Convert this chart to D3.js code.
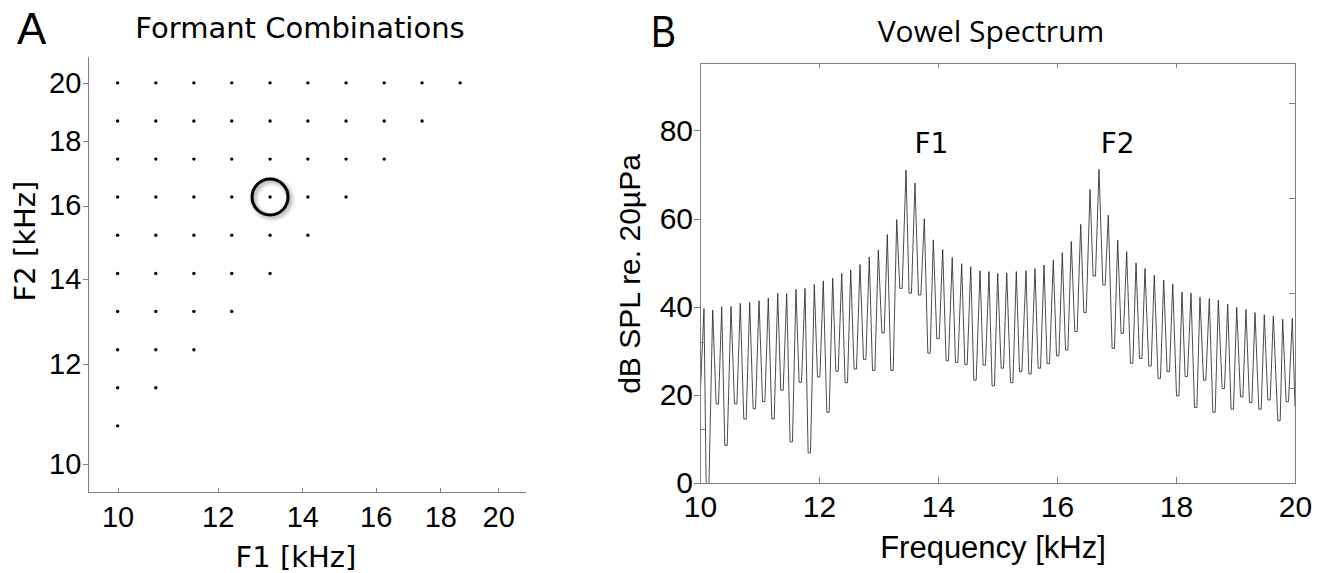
<!DOCTYPE html>
<html>
<head>
<meta charset="utf-8">
<script src="https://cdn.jsdelivr.net/npm/d3@7"></script>
<style>
  body { margin: 0; background: #fff; }
  svg { display: block; }
  .axis path, .axis line { stroke: #808080; stroke-width: 1; shape-rendering: crispEdges; }
  .axis text { font-family: "Liberation Sans", Arial, sans-serif; fill: #000; }
</style>
</head>
<body>
<svg id="chart" width="1317" height="573"></svg>
<script>
// panel A: formant values on the grid (kHz)
var f1Values = [10.00, 10.72, 11.49, 12.31, 13.20, 14.14, 15.16, 16.25, 17.41, 18.66];
var f2Values = [10.72, 11.49, 12.31, 13.20, 14.14, 15.16, 16.25, 17.41, 18.66, 20.00];
var selected = {f1: 13.20, f2: 16.25};
var formantTicks = [10, 12, 14, 16, 18, 20];

// panel B: spectrum vertices (kHz, dB SPL)
// start point, then peak / trough / peak ... , then end point
var specFreq = [10.000, 10.067, 10.126, 10.213, 10.291, 10.365, 10.437, 10.521, 10.600, 10.677,
  10.756, 10.835, 10.913, 10.992, 11.071, 11.148, 11.227, 11.306, 11.378, 11.457,
  11.534, 11.613, 11.686, 11.765, 11.837, 11.921, 11.995, 12.072, 12.151, 12.230,
  12.303, 12.382, 12.459, 12.533, 12.610, 12.689, 12.768, 12.845, 12.919, 12.997,
  13.076, 13.148, 13.227, 13.306, 13.378, 13.462, 13.534, 13.613, 13.692, 13.770,
  13.849, 13.921, 14.000, 14.079, 14.156, 14.239, 14.314, 14.398, 14.471, 14.550,
  14.622, 14.706, 14.778, 14.857, 14.929, 15.003, 15.081, 15.155, 15.239, 15.316,
  15.390, 15.479, 15.546, 15.630, 15.703, 15.782, 15.854, 15.938, 16.012, 16.089,
  16.163, 16.240, 16.319, 16.398, 16.471, 16.555, 16.627, 16.706, 16.790, 16.862,
  16.946, 17.020, 17.097, 17.171, 17.255, 17.328, 17.407, 17.479, 17.563, 17.635,
  17.719, 17.793, 17.871, 17.945, 18.029, 18.101, 18.173, 18.252, 18.331, 18.403,
  18.482, 18.560, 18.639, 18.711, 18.795, 18.869, 18.946, 19.020, 19.104, 19.176,
  19.255, 19.328, 19.412, 19.484, 19.563, 19.636, 19.731, 19.793, 19.871, 19.955,
  20.000];
var specDb = [18.9, 39.6, -3, 39.3, 18.0, 40.0, 8.6, 40.1, 18.0, 40.8,
  14.6, 41.0, 16.9, 41.4, 18.5, 42.0, 14.6, 43.1, 21.1, 43.0,
  9.4, 44.0, 22.9, 44.2, 6.9, 45.1, 24.1, 45.9, 16.1, 46.5,
  25.4, 47.6, 22.8, 48.4, 25.9, 49.6, 28.1, 51.3, 25.6, 52.9,
  34.1, 56.4, 25.6, 59.8, 44.2, 71.0, 43.1, 68.1, 42.7, 60.0,
  29.5, 55.2, 32.8, 53.0, 27.8, 51.2, 27.4, 49.8, 26.9, 49.1,
  23.4, 48.2, 26.8, 48.0, 22.1, 47.6, 26.1, 47.7, 22.8, 48.0,
  25.3, 48.2, 24.8, 48.7, 26.1, 49.5, 27.1, 50.6, 28.9, 52.3,
  30.2, 54.8, 34.4, 58.7, 38.7, 66.6, 47.0, 71.2, 45.0, 60.8,
  30.6, 55.1, 34.0, 52.5, 27.2, 50.0, 28.3, 48.7, 26.6, 47.2,
  23.8, 46.1, 25.3, 45.2, 19.8, 43.4, 24.2, 43.1, 17.2, 42.2,
  23.4, 41.9, 16.1, 41.5, 21.5, 40.6, 16.8, 39.9, 19.6, 39.4,
  18.3, 38.7, 16.8, 38.2, 18.9, 37.9, 14.2, 37.2, 18.5, 37.4,
  17.4];
var freqTicks = [10, 12, 14, 16, 18, 20];
var dbTicks = [0, 20, 40, 60, 80];
var boxRightTicks = [20, 40, 60, 80];
var boxInnerTicks = [12.3, 32];
var formantLabels = [{name: "F1", f: 13.89}, {name: "F2", f: 17.02}];

(function () {
  "use strict";
  var svg = d3.select("#chart");
  svg.append("rect").attr("width", 1317).attr("height", 573).attr("fill", "#fff");

  var defs = svg.append("defs");
  var shadow = defs.append("filter").attr("id", "shadow")
    .attr("x", "-50%").attr("y", "-50%").attr("width", "200%").attr("height", "200%");
  shadow.append("feDropShadow").attr("dx", 2).attr("dy", 2)
    .attr("stdDeviation", 2).attr("flood-color", "#000").attr("flood-opacity", 0.45);

  // ---------- panel A ----------
  var xA = d3.scaleLog().domain([9.48, 21.0]).range([88.3, 525]);
  var yA = d3.scaleLog().domain([9.5, 21.0]).range([492.3, 56]);

  var combos = [];
  f2Values.forEach(function (f2) {
    f1Values.forEach(function (f1) {
      if (f1 < f2) combos.push({f1: f1, f2: f2});
    });
  });

  var gA = svg.append("g");

  gA.append("g").attr("class", "axis")
    .attr("transform", "translate(0,492.3)")
    .call(d3.axisBottom(xA).tickValues(formantTicks).tickFormat(d3.format("d"))
      .tickSizeInner(-4).tickSizeOuter(0).tickPadding(14))
    .selectAll("text").style("font-size", "29px");

  gA.append("g").attr("class", "axis")
    .attr("transform", "translate(88.3,0)")
    .call(d3.axisLeft(yA).tickValues(formantTicks).tickFormat(d3.format("d"))
      .tickSizeInner(5).tickSizeOuter(0).tickPadding(2))
    .selectAll("text").style("font-size", "29px");

  gA.selectAll(".dot").data(combos).enter().append("circle")
    .attr("class", "dot")
    .attr("cx", function (d) { return xA(d.f1); })
    .attr("cy", function (d) { return yA(d.f2); })
    .attr("r", 1.7)
    .attr("fill", "#000");

  gA.append("circle")
    .attr("cx", xA(selected.f1))
    .attr("cy", yA(selected.f2))
    .attr("r", 18)
    .attr("fill", "none")
    .attr("stroke", "#000")
    .attr("stroke-width", 3)
    .attr("filter", "url(#shadow)");

  gA.append("text").attr("x", 17).attr("y", 44)
    .style("font-family", "Liberation Sans, Arial, sans-serif").style("font-size", "44px")
    .text("A");
  gA.append("text").attr("x", 300).attr("y", 38).attr("text-anchor", "middle")
    .style("font-family", "DejaVu Sans, sans-serif").style("font-size", "29px")
    .text("Formant Combinations");
  gA.append("text").attr("x", 296).attr("y", 567).attr("text-anchor", "middle")
    .style("font-family", "DejaVu Sans, sans-serif").style("font-size", "29px")
    .text("F1 [kHz]");
  gA.append("text").attr("transform", "translate(35,241) rotate(-90)").attr("text-anchor", "middle")
    .style("font-family", "DejaVu Sans, sans-serif").style("font-size", "29px")
    .text("F2 [kHz]");

  // ---------- panel B ----------
  var left = 700, right = 1295, top = 63, bottom = 483.3;
  var xB = d3.scaleLinear().domain([10, 20]).range([left, right]);
  var yB = d3.scaleLinear().domain([0, 95.3]).range([bottom, top]);
  var yBox = d3.scaleLinear().domain([0, 88.5]).range([bottom, top]);

  var gB = svg.append("g");

  defs.append("clipPath").attr("id", "plotB").append("rect")
    .attr("x", left).attr("y", top).attr("width", right - left).attr("height", bottom - top);

  // troughs are drawn with a short flat bottom so the harmonics read as spikes
  var troughHalf = 0.02;
  var points = [];
  specFreq.forEach(function (f, i) {
    var isTrough = i > 0 && i < specFreq.length - 1 && i % 2 === 0;
    if (isTrough) {
      points.push([f - troughHalf, specDb[i]]);
      points.push([f + troughHalf, specDb[i]]);
    } else {
      points.push([f, specDb[i]]);
    }
  });
  var line = d3.line()
    .x(function (d) { return xB(d[0]); })
    .y(function (d) { return yB(d[1]); });

  gB.append("path")
    .datum(points)
    .attr("clip-path", "url(#plotB)")
    .attr("d", line)
    .attr("fill", "none")
    .attr("stroke", "#2a2a2a")
    .attr("stroke-width", 0.85);

  gB.append("g").attr("class", "axis")
    .attr("transform", "translate(0," + bottom + ")")
    .call(d3.axisBottom(xB).tickValues(freqTicks).tickFormat(d3.format("d"))
      .tickSizeInner(-6).tickSizeOuter(0).tickPadding(12))
    .selectAll("text").style("font-size", "30px");

  gB.append("g").attr("class", "axis")
    .attr("transform", "translate(0," + top + ")")
    .call(d3.axisTop(xB).tickValues(freqTicks).tickFormat("")
      .tickSizeInner(-5).tickSizeOuter(0));

  gB.append("g").attr("class", "axis")
    .attr("transform", "translate(" + left + ",0)")
    .call(d3.axisLeft(yB).tickValues(dbTicks).tickFormat(d3.format("d"))
      .tickSizeInner(6).tickSizeOuter(0).tickPadding(1))
    .selectAll("text").style("font-size", "30px");

  gB.append("g").attr("class", "axis")
    .attr("transform", "translate(" + left + ",0)")
    .call(d3.axisRight(yB).tickValues(boxInnerTicks).tickFormat("")
      .tickSizeInner(5).tickSizeOuter(0))
    .select(".domain").remove();

  gB.append("g").attr("class", "axis")
    .attr("transform", "translate(" + right + ",0)")
    .call(d3.axisRight(yBox).tickValues(boxRightTicks).tickFormat("")
      .tickSizeInner(-6).tickSizeOuter(0));

  gB.selectAll(".flabel").data(formantLabels).enter().append("text")
    .attr("class", "flabel")
    .attr("x", function (d) { return xB(d.f); })
    .attr("y", 153)
    .attr("text-anchor", "middle")
    .style("font-family", "DejaVu Sans, sans-serif").style("font-size", "28px")
    .text(function (d) { return d.name; });

  gB.append("text").attr("x", 651).attr("y", 47)
    .style("font-family", "Liberation Sans, Arial, sans-serif").style("font-size", "44px")
    .attr("textLength", 25).attr("lengthAdjust", "spacingAndGlyphs")
    .text("B");
  gB.append("text").attr("x", 991).attr("y", 42).attr("text-anchor", "middle")
    .style("font-family", "Open Sans, sans-serif").style("font-size", "30px")
    .text("Vowel Spectrum");
  gB.append("text").attr("x", 993).attr("y", 558).attr("text-anchor", "middle")
    .style("font-family", "Liberation Sans, Arial, sans-serif").style("font-size", "31px")
    .text("Frequency [kHz]");
  gB.append("text").attr("transform", "translate(640,274) rotate(-90)").attr("text-anchor", "middle")
    .style("font-family", "Liberation Sans, Arial, sans-serif").style("font-size", "30px")
    .text("dB SPL re. 20\u00b5Pa");
}());
</script>
</body>
</html>
